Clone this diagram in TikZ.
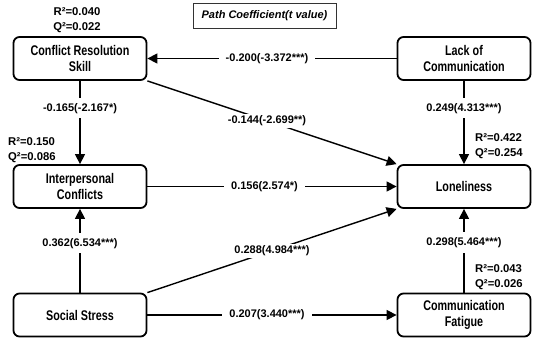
\documentclass[tikz,border=0pt]{standalone}
\usepackage{fontspec}
\setmainfont{Liberation Sans}
\newfontfamily\boxfont{Liberation Sans}[FakeStretch=0.77]
\usetikzlibrary{arrows.meta}
\begin{document}
\begin{tikzpicture}[x=1pt,y=-1pt,
  var/.style={draw, line width=1.8pt, rounded corners=6pt, minimum width=133pt,
    minimum height=43pt, align=center, inner sep=0pt,
    font=\boxfont\bfseries\fontsize{14}{15.5}\selectfont},
  lab/.style={fill=white, inner xsep=7pt, inner ysep=5pt, font=\bfseries\fontsize{11}{13}\selectfont},
  dlab/.style={fill=white, inner xsep=2pt, inner ysep=2pt, font=\bfseries\fontsize{11}{13}\selectfont},
  stat/.style={inner sep=0pt, align=left, font=\bfseries\fontsize{11.3}{15}\selectfont},
  arr/.style={line width=1.4pt, -{Triangle[length=10pt,width=10pt]}}]
\useasboundingbox (0,0) rectangle (533,340);

\node[var] (crs)  at (80,58.5)  {Conflict Resolution\\Skill};
\node[var] (lack) at (464,58.5) {Lack of\\Communication};
\node[var] (ipc)  at (80,186.5) {Interpersonal\\Conflicts};
\node[var] (lone) at (464,186.5) {Loneliness};
\node[var] (soc)  at (80,315)   {Social Stress};
\node[var] (cf)   at (464,315)  {Communication\\Fatigue};

\node[draw=black!80, line width=0.7pt, minimum width=143pt, minimum height=25pt, inner sep=0pt,
  font=\bfseries\itshape\fontsize{11}{13}\selectfont] (legend) at (264.5,15.5) {Path Coefficient(t value)};

\node[stat, align=center] (s1) at (77,20) {R²=0.040\\Q²=0.022};
\node[stat, anchor=west] (s2) at (8,150) {R²=0.150\\Q²=0.086};
\node[stat, anchor=west] (s3) at (475,146) {R²=0.422\\Q²=0.254};
\node[stat, anchor=west] (s4) at (475,277.5) {R²=0.043\\Q²=0.026};

\draw[arr] (lack.west) -- node[lab, pos=0.52] {-0.200(-3.372***)} (crs.east);
\draw[arr] (crs.south) -- node[lab, pos=0.33] {-0.165(-2.167*)} (ipc.north);
\draw[arr] (crs.south east) -- node[dlab, pos=0.48] {-0.144(-2.699**)} (lone.north west);
\draw[arr] (lack.south) -- node[lab, pos=0.33] {0.249(4.313***)} (lone.north);
\draw[arr] (ipc.east) -- node[lab, pos=0.47] {0.156(2.574*)} (lone.west);
\draw[arr] (soc.north) -- node[lab, pos=0.59] {0.362(6.534***)} (ipc.south);
\draw[arr] (soc.north east) -- node[dlab, pos=0.5] {0.288(4.984***)} (lone.south west);
\draw[arr] (soc.east) -- node[lab, pos=0.48] {0.207(3.440***)} (cf.west);
\draw[arr] (cf.north) -- node[lab, pos=0.6] {0.298(5.464***)} (lone.south);
\end{tikzpicture}
\end{document}
